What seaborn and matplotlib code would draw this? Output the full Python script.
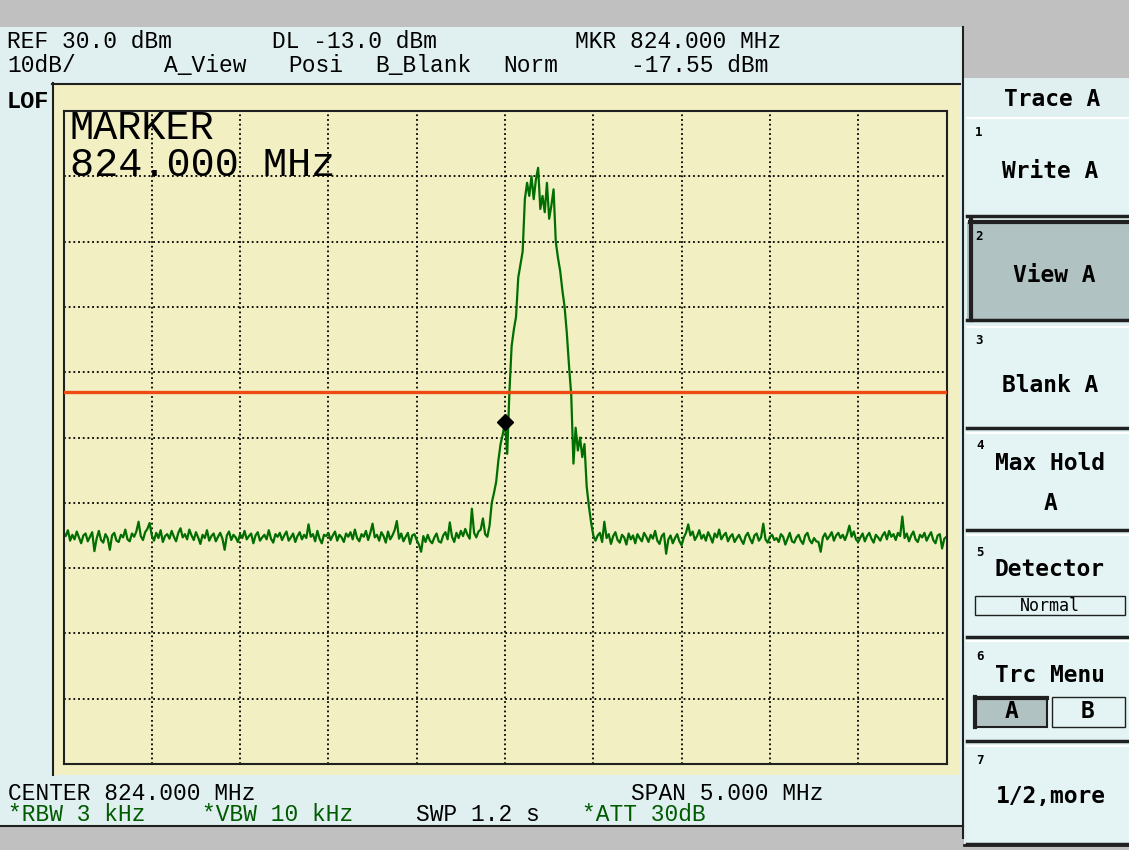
import matplotlib
matplotlib.use("Agg")
from matplotlib import pyplot as plt
from matplotlib.patches import Rectangle
import seaborn as sns
import pandas as pd
import numpy as np

# analyzer settings
center_mhz = 824.0
span_mhz = 5.0
ref_dbm = 30.0
db_per_div = 10.0
display_line_dbm = -13.0
marker_mhz = 824.0
marker_dbm = -17.55

# trace A, dBm, one value per sweep point
left_floor = [
    -34.6, -35.1, -34.2, -35.8, -34.9, -35.6, -34.4, -35.3, -36.2, -35.0,
    -34.7, -35.9, -35.2, -34.5, -37.4, -35.5, -34.3, -35.7, -36.1, -34.8,
    -35.4, -37.2, -35.0, -34.6, -35.8, -36.0, -34.9, -35.3, -34.1, -35.6,
    -35.9, -34.7, -35.2, -34.4, -32.9, -35.1, -35.7, -34.5, -34.0, -33.1,
    -35.0, -35.8, -34.6, -35.4, -34.2, -36.0, -35.1, -34.8, -35.5, -34.3,
    -35.2, -35.9, -34.6, -33.9, -35.3, -34.8, -35.6, -34.1, -35.0, -35.7,
    -34.5, -35.3, -36.3, -34.9, -35.4, -34.2, -35.8, -35.1, -34.7, -35.9,
    -35.2, -34.6, -35.5, -37.2, -35.0, -34.4, -35.7, -34.9, -35.3, -36.0,
    -34.8, -35.4, -34.3, -35.6, -35.1, -34.7, -36.2, -35.0, -34.5, -35.8,
    -35.3, -34.9, -35.6, -34.2, -35.5, -36.1, -34.8, -35.2, -34.6, -35.7,
    -35.0, -34.4, -35.8, -35.3, -34.7, -36.0, -35.1, -34.5, -35.6, -34.9,
    -35.4, -33.3, -35.2, -34.8, -35.9, -34.3, -35.5, -36.2, -34.9, -35.1,
    -34.6, -35.7, -35.0, -34.4, -35.8, -34.9, -35.3, -36.0, -34.7, -35.2,
    -34.5, -35.6, -34.1, -35.4, -35.9, -34.8, -35.2, -34.3, -35.7, -34.6,
    -33.2, -35.3, -34.9, -35.8, -34.5, -35.1, -36.1, -34.4, -35.6, -35.0,
    -34.2, -32.8, -35.5, -34.7, -35.9, -35.2, -34.6, -36.3, -35.0, -34.8,
    -35.7, -36.4, -37.5, -35.1, -36.0, -34.9, -35.8, -36.2, -35.3, -34.7,
    -35.9, -36.1, -35.0, -34.5, -35.6, -33.0, -35.2, -36.0, -34.6, -35.4,
    -34.3, -35.1, -34.0, -34.9, -35.5, -30.9, -34.6, -35.3, -34.4, -34.1,
    -32.4, -34.8, -35.2,
]
signal = [
    -33.5, -30.0, -28.5, -26.8, -23.5, -21.0, -19.5, -17.6, -22.5, -13.0,
    -6.0, -3.5, -1.5, 4.5, 6.5, 8.5, 16.5, 19.0, 17.0, 20.0,
    16.5, 19.5, 21.3, 15.0, 17.0, 14.5, 19.0, 13.5, 15.5, 18.0,
    10.0, 7.5, 5.5, 2.5, 0.0, -4.0, -9.0, -13.5, -24.0, -18.5,
    -22.0, -20.0, -23.0, -21.0, -27.5, -30.5, -33.0, -35.0,
]
right_floor = [
    -35.8, -35.0, -34.6, -36.0, -32.9, -35.4, -34.8, -36.3, -35.1, -34.5,
    -35.7, -36.1, -34.9, -35.3, -36.4, -34.7, -35.6, -35.0, -36.2, -34.8,
    -35.4, -35.9, -34.6, -35.2, -36.0, -34.9, -35.5, -34.3, -35.8, -36.3,
    -35.1, -34.7, -37.8, -35.6, -35.0, -36.2, -35.4, -34.8, -35.9, -36.5,
    -35.3, -34.6, -33.3, -35.0, -34.4, -35.7, -35.1, -34.2, -35.5, -34.9,
    -35.8, -34.5, -35.2, -36.1, -34.7, -35.3, -34.1, -35.6, -35.0, -34.6,
    -35.9, -35.2, -34.8, -36.0, -35.4, -34.9, -35.7, -36.3, -35.1, -34.6,
    -35.5, -36.2, -35.0, -34.7, -35.8, -35.3, -33.2, -35.6, -36.1, -35.2,
    -34.9, -35.7, -35.4, -36.0, -34.8, -35.2, -36.4, -35.5, -34.6, -35.9,
    -36.1, -35.3, -34.9, -35.8, -36.3, -35.0, -34.6, -35.7, -36.2, -35.4,
    -35.9, -36.0, -37.5, -35.3, -34.7, -35.6, -35.1, -34.5, -35.8, -35.0,
    -34.6, -35.4, -34.9, -35.7, -34.8, -33.5, -35.2, -34.4, -35.6, -36.0,
    -35.3, -34.7, -35.9, -35.1, -34.6, -35.5, -36.1, -34.9, -35.3, -35.8,
    -35.0, -34.5, -35.6, -34.3, -35.2, -34.8, -35.7, -34.6, -35.1, -32.1,
    -35.4, -34.7, -35.9, -35.0, -34.4, -35.6, -36.0, -34.9, -35.3, -34.6,
    -35.8, -35.1, -34.5, -35.7, -36.2, -35.0, -34.8, -37.0, -35.5, -35.2,
]

level = left_floor + signal + right_floor
freq = np.linspace(center_mhz - span_mhz / 2, center_mhz + span_mhz / 2, len(level))
df = pd.DataFrame({"freq": freq, "level": level})

# screen colours
gray = "#c0c0c0"
cyan = "#e0f0f0"
key_cyan = "#e4f4f4"
pressed = "#b0c2c2"
screen_yellow = "#f2f0c2"
trace_green = "#006e00"
dl_red = "#f04a14"
text_green = "#005a00"
dark = "#202020"

W, H = 1129, 850
fig = plt.figure(figsize=(W / 100, H / 100), dpi=100)
fig.patch.set_facecolor(gray)

bg = fig.add_axes([0, 0, 1, 1])
bg.set_xlim(0, W)
bg.set_ylim(H, 0)
bg.axis("off")


def box(x0, y0, x1, y1, **kw):
    bg.add_patch(Rectangle((x0, y0), x1 - x0, y1 - y0, **kw))


def put(x, y, s, **kw):
    fig.text(x / W, 1 - y / H, s, **kw)


# main panel and right softkey panel
box(0, 27, 963, 825, facecolor=cyan, edgecolor="none")
bg.plot([0, 963], [826, 826], color=dark, lw=1.5)
box(964, 78, W, 844, facecolor=cyan, edgecolor="none")
bg.plot([963, 963], [27, 838], color=dark, lw=1.5)
bg.plot([964, W], [845, 845], color=dark, lw=2)

# outer yellow screen
box(52, 83, 960, 775, facecolor=screen_yellow, edgecolor="none")
bg.plot([52, 960], [83.5, 83.5], color=dark, lw=1.5)
bg.plot([52.5, 52.5], [83, 775], color=dark, lw=1.5)

# softkeys
keys = [(117, 216), (220, 320), (326, 428), (432, 530), (534, 637), (640, 741), (745, 844)]
for i, (top, bottom) in enumerate(keys):
    fc = pressed if i == 1 else key_cyan
    box(967, top, W, bottom, facecolor=fc, edgecolor="none")
    bg.plot([967, W], [top + 1, top + 1], color="white", lw=1.5)
    bg.plot([967, W], [bottom, bottom], color=dark, lw=2.5)
bg.plot([971, 971], [220, 320], color=dark, lw=3)
bg.plot([970, W], [221.5, 221.5], color=dark, lw=3)

# spectrum graticule
x0, x1, y0, y1 = 63.5, 946.5, 111, 764
ax = fig.add_axes([x0 / W, 1 - y1 / H, (x1 - x0) / W, (y1 - y0) / H])
ax.set_facecolor(screen_yellow)
lo_f, hi_f = center_mhz - span_mhz / 2, center_mhz + span_mhz / 2
lo_db = ref_dbm - 10 * db_per_div
ax.set_xlim(lo_f, hi_f)
ax.set_ylim(lo_db, ref_dbm)
ax.set_xticks(np.linspace(lo_f, hi_f, 11))
ax.set_yticks(np.linspace(lo_db, ref_dbm, 11))
ax.tick_params(length=0, labelbottom=False, labelleft=False)
ax.grid(True, color="black", linestyle=(0, (1, 1.6)), linewidth=1.3)
ax.set_axisbelow(True)
for sp in ax.spines.values():
    sp.set_color(dark)
    sp.set_linewidth(1.5)

sns.lineplot(data=df, x="freq", y="level", ax=ax, color=trace_green,
             linewidth=1.6, errorbar=None, estimator=None)
ax.axhline(display_line_dbm, color=dl_red, linewidth=2.4, zorder=3)
ax.plot([marker_mhz], [marker_dbm], marker="D", color="black",
        markersize=8, zorder=4)
ax.set_xlabel("")
ax.set_ylabel("")

# header / footer
mono = ["Liberation Mono", "DejaVu Sans Mono"]
hdr = dict(family=mono, fontsize=16.5, va="baseline", color="black")
put(7, 48, "REF 30.0 dBm", **hdr)
put(272, 48, "DL -13.0 dBm", **hdr)
put(575, 48, "MKR 824.000 MHz", **hdr)
put(7, 72, "10dB/", **hdr)
put(164, 72, "A_View", **hdr)
put(288, 72, "Posi", **hdr)
put(375, 72, "B_Blank", **hdr)
put(503, 72, "Norm", **hdr)
put(631, 72, "-17.55 dBm", **hdr)
put(7, 108, "LOF", family=mono, fontsize=17, fontweight="bold", va="baseline")

put(8, 800, "CENTER 824.000 MHz", **hdr)
put(631, 800, "SPAN 5.000 MHz", **hdr)
hdr_g = dict(hdr, color=text_green)
put(8, 821, "*RBW 3 kHz", **hdr_g)
put(202, 821, "*VBW 10 kHz", **hdr_g)
put(416, 821, "SWP 1.2 s", **hdr)
put(582, 821, "*ATT 30dB", **hdr_g)

# marker readout in the graticule, one text block
put(70, 109, "MARKER\n824.000 MHz", family=mono, fontsize=29, va="top",
    linespacing=0.95)

# softkey labels
sk = dict(family="DejaVu Sans Mono", fontsize=16.5, fontweight="bold",
          ha="center", va="center")
num = dict(family="DejaVu Sans Mono", fontsize=9, fontweight="bold",
           ha="left", va="center")
put(1052, 100, "Trace A", **sk)
put(975, 132, "1", **num)
put(1050, 172, "Write A", **sk)
put(975, 236, "2", **num)
put(1054, 275, "View A", **sk)
put(975, 340, "3", **num)
put(1050, 386, "Blank A", **sk)
put(976, 446, "4", **num)
put(1050, 464, "Max Hold", **sk)
put(1051, 504, "A", **sk)
put(976, 553, "5", **num)
put(1050, 570, "Detector", **sk)
box(975, 596, 1125, 615, facecolor=key_cyan, edgecolor=dark, lw=1)
put(1050, 606, "Normal", family="DejaVu Sans Mono", fontsize=12,
    ha="center", va="center")
put(976, 657, "6", **num)
put(1050, 675, "Trc Menu", **sk)
box(975, 697, 1047, 727, facecolor=pressed, edgecolor=dark, lw=1.5)
bg.plot([975, 975], [697, 727], color=dark, lw=3)
bg.plot([975, 1047], [697.5, 697.5], color=dark, lw=3)
box(1052, 697, 1125, 727, facecolor=key_cyan, edgecolor=dark, lw=1)
put(1012, 712, "A", **sk)
put(1088, 712, "B", **sk)
put(976, 761, "7", **num)
put(1051, 797, "1/2,more", **sk)

fig.savefig("out.png", dpi=100, facecolor=fig.get_facecolor())
